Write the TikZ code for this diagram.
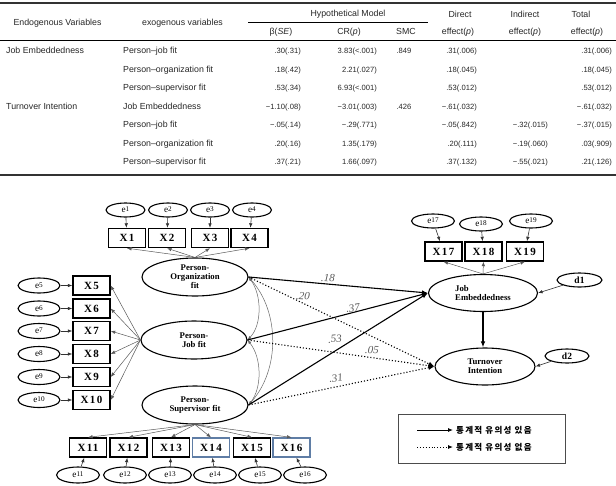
\documentclass[tikz,border=0pt]{standalone}
\usepackage{fontspec}
\setmainfont{Liberation Serif}
\newfontfamily\tabfont{Liberation Sans}
\newfontfamily\boxfont[LetterSpace=12]{Liberation Serif}
\newfontfamily\korfont[LetterSpace=15]{Noto Sans CJK KR}
\usetikzlibrary{arrows.meta,shapes.geometric}
\definecolor{boxblue}{RGB}{95,125,165}
\newcommand\elab[1]{e\raisebox{1.2pt}{\fontsize{7.2}{7}\selectfont #1}}
\tikzset{
  tab/.style={font=\tabfont\fontsize{8.8}{10}\selectfont, inner sep=0pt, text=black!85, text height=6.5pt, text depth=1.8pt},
  num/.style={font=\tabfont\fontsize{7.6}{9}\selectfont, inner sep=0pt, text=black!85, text height=5.8pt, text depth=1.6pt},
  latent/.style={ellipse, draw, line width=1.1pt, minimum width=106pt, minimum height=38pt, inner sep=0pt, font=\bfseries\fontsize{8.7}{9}\selectfont, align=center},
  obs/.style={rectangle, draw, line width=1.4pt, minimum width=37pt, minimum height=19pt, inner sep=0pt, font=\boxfont\bfseries\fontsize{11}{12}\selectfont},
  bobs/.style={obs, draw=boxblue, line width=1.2pt},
  err/.style={ellipse, draw, line width=1.1pt, minimum width=42pt, minimum height=15pt, inner sep=0pt, font=\fontsize{9.2}{10}\selectfont},
  meas/.style={-{Latex[length=4.5pt,width=3.5pt]}, draw=black!65, line width=0.5pt},
  errarr/.style={-{Latex[length=4.5pt,width=3.5pt]}, draw=black!80, line width=0.6pt},
  sig/.style={-{Latex[length=6pt,width=4.5pt]}, line width=1.1pt},
  nsig/.style={-{Latex[length=6pt,width=4.5pt]}, line width=1.1pt, dotted},
  cov/.style={{Latex[length=4pt,width=3pt]}-{Latex[length=4pt,width=3pt]}, draw=black!60, line width=0.5pt},
  coef/.style={font=\itshape\fontsize{11}{12}\selectfont, text=black!65, inner sep=0pt},
}
\begin{document}
\begin{tikzpicture}[x=1pt,y=-1pt]
\useasboundingbox (0,0) rectangle (616,485);
% ---------------- table ----------------
\draw[line width=2.2pt, black!80] (0,3) -- (616,3);
\draw[line width=0.8pt] (248,22) -- (428,22);
\draw[line width=0.6pt] (0,40) -- (616,40);
\draw[line width=2.2pt, black!80] (0,175) -- (616,175);
\node[tab] (h1) at (57.5,23) {Endogenous Variables};
\node[tab] (h2) at (182.5,23) {exogenous variables};
\node[tab] (h3) at (348,14) {Hypothetical Model};
\node[tab] (h4) at (281,32) {β(\textit{SE})};
\node[tab] (h5) at (349,32) {CR(\textit{p})};
\node[tab] (h6) at (406,32) {SMC};
\node[tab] (h7) at (460,15) {Direct};
\node[tab] (h7b) at (458,32) {effect(\textit{p})};
\node[tab] (h8) at (525,15) {Indirect};
\node[tab] (h8b) at (525,32) {effect(\textit{p})};
\node[tab] (h9) at (581,15) {Total};
\node[tab] (h9b) at (587,32) {effect(\textit{p})};
\foreach \yy/\ca/\cb/\cc/\cd/\ce/\cf/\cg/\ch [count=\i] in {
 51.5/Job Embeddedness/Person–job fit/.30(.31)/3.83(<.001)/.849/.31(.006)/ /.31(.006),
 70/ /Person–organization fit/.18(.42)/2.21(.027)/ /.18(.045)/ /.18(.045),
 88.5/ /Person–supervisor fit/.53(.34)/6.93(<.001)/ /.53(.012)/ /.53(.012),
 107/Turnover Intention/Job Embeddedness/−1.10(.08)/−3.01(.003)/.426/−.61(.032)/ /−.61(.032),
 125.5/ /Person–job fit/−.05(.14)/−.29(.771)/ /−.05(.842)/−.32(.015)/−.37(.015),
 144/ /Person–organization fit/.20(.16)/1.35(.179)/ /.20(.111)/−.19(.060)/.03(.909),
 162.5/ /Person–supervisor fit/.37(.21)/1.66(.097)/ /.37(.132)/−.55(.021)/.21(.126)}{
  \node[tab,anchor=west] (ra\i) at (6,\yy) {\ca};
  \node[tab,anchor=west] (rb\i) at (123,\yy) {\cb};
  \node[num,anchor=east] (rc\i) at (301,\yy) {\cc};
  \node[num,anchor=east] (rd\i) at (377,\yy) {\cd};
  \node[num] (re\i) at (404,\yy) {\ce};
  \node[num,anchor=east] (rf\i) at (477,\yy) {\cf};
  \node[num,anchor=east] (rg\i) at (548,\yy) {\cg};
  \node[num,anchor=east] (rh\i) at (612,\yy) {\ch};
}
% ---------------- latent variables ----------------
\node[latent] (PO) at (195,277) {Person-\\Organization\\fit};
\node[latent] (PJ) at (194,340) {Person-\\Job fit};
\node[latent] (PS) at (195,405) {Person-\\Supervisor fit};
\node[latent, minimum width=109pt, minimum height=37pt, align=left] (JE) at (483,293) {Job\\Embeddedness};
\node[latent, minimum width=100pt, minimum height=37pt] (TI) at (485,366.5) {Turnover\\Intention};
% ---------------- observed: X1-X4 ----------------
\foreach \n/\x/\ex in {1/127/125.5, 2/167/168, 3/210/210, 4/249.5/252}{
  \node[obs] (X\n) at (\x,238) {X\n};
  \node[err, minimum width=39pt, minimum height=14pt] (e\n) at (\ex,210) {\elab{\n}};
  \draw[errarr] (e\n) -- (X\n);
  \draw[meas] (PO.north) -- (X\n.south);
}
% ---------------- X5-X10 ----------------
\foreach \n/\y in {5/285.5, 6/308.5, 7/331, 8/354, 9/377, 10/400}{
  \node[obs] (X\n) at (91.5,\y) {X\n};
  \node[err] (e\n) at (39,\y) {\elab{\n}};
  \draw[errarr] (e\n) -- (X\n);
  \draw[meas] (PJ.west) -- (X\n.east);
}
% ---------------- X11-X16 ----------------
\foreach \n/\x/\ex/\st in {11/88/78/obs, 12/128.5/125/obs, 13/171/170/obs, 14/211/215/bobs, 15/252/260/obs, 16/291.5/305/bobs}{
  \node[\st] (X\n) at (\x,447.5) {X\n};
  \node[err, minimum width=43pt, minimum height=16pt] (e\n) at (\ex,475) {\elab{\n}};
  \draw[errarr] (e\n) -- (X\n);
  \draw[meas] (PS.south) -- (X\n.north);
}
% ---------------- X17-X19 ----------------
\foreach \n/\x/\ex/\ey in {17/443.5/433/221, 18/483.5/481/224, 19/525/531/221}{
  \node[obs] (X\n) at (\x,251.5) {X\n};
  \node[err, minimum width=43pt, minimum height=14pt] (e\n) at (\ex,\ey) {\elab{\n}};
  \draw[errarr] (e\n) -- (X\n);
  \draw[meas] (JE.north) -- (X\n.south);
}
% ---------------- disturbances ----------------
\node[err, minimum width=45pt, minimum height=14pt, font=\bfseries\fontsize{9.5}{10}\selectfont] (d1) at (579.5,280) {d1};
\node[err, minimum width=44pt, minimum height=14pt, font=\bfseries\fontsize{9.5}{10}\selectfont] (d2) at (567,356) {d2};
\draw[errarr] (d1) -- (JE.east);
\draw[errarr] (d2) -- (TI.east);
% ---------------- covariances ----------------
\draw[cov] (PO.east) .. controls (262,295) and (262,325) .. (PJ.east);
\draw[cov] (PJ.east) .. controls (262,358) and (262,388) .. (PS.east);
\draw[cov] (PO.east) .. controls (280,312) and (280,370) .. (PS.east);
% ---------------- structural paths ----------------
\draw[sig] (PO.east) -- (JE.west);
\draw[sig] (PJ.east) -- (JE.west);
\draw[sig] (PS.east) -- (JE.west);
\draw[nsig] (PO.east) -- (TI.west);
\draw[nsig] (PJ.east) -- (TI.west);
\draw[nsig] (PS.east) -- (TI.west);
\draw[sig] (JE.south) -- (JE.south |- TI.north);
\node[coef, rotate=-3] (c18) at (328,278) {.18};
\node[coef, rotate=-4] (c20) at (303,296) {.20};
\node[coef, rotate=8] (c37) at (353,308) {.37};
\node[coef, rotate=5] (c53) at (335,339) {.53};
\node[coef, rotate=-3] (c05) at (372,350) {.05};
\node[coef, rotate=8] (c31) at (336,378) {.31};
% ---------------- legend ----------------
\node[draw=black!70, line width=0.8pt, minimum width=167pt, minimum height=49pt, inner sep=0pt] (leg) at (481.5,438.5) {};
\coordinate (l1a) at (417,430);
\coordinate (l1b) at (453,430);
\coordinate (l2a) at (417,447);
\coordinate (l2b) at (453,447);
\draw[-{Latex[length=5pt,width=4pt]}, line width=0.9pt] (l1a) -- (l1b);
\draw[-{Latex[length=5pt,width=4pt]}, line width=0.9pt, dotted] (l2a) -- (l2b);
\node[anchor=west, inner sep=0pt, font=\korfont\bfseries\fontsize{8.5}{10}\selectfont] (t1) at (456,430) {통계적 유의성 있음};
\node[anchor=west, inner sep=0pt, font=\korfont\bfseries\fontsize{8.5}{10}\selectfont] (t2) at (456,447) {통계적 유의성 없음};
\end{tikzpicture}
\end{document}
